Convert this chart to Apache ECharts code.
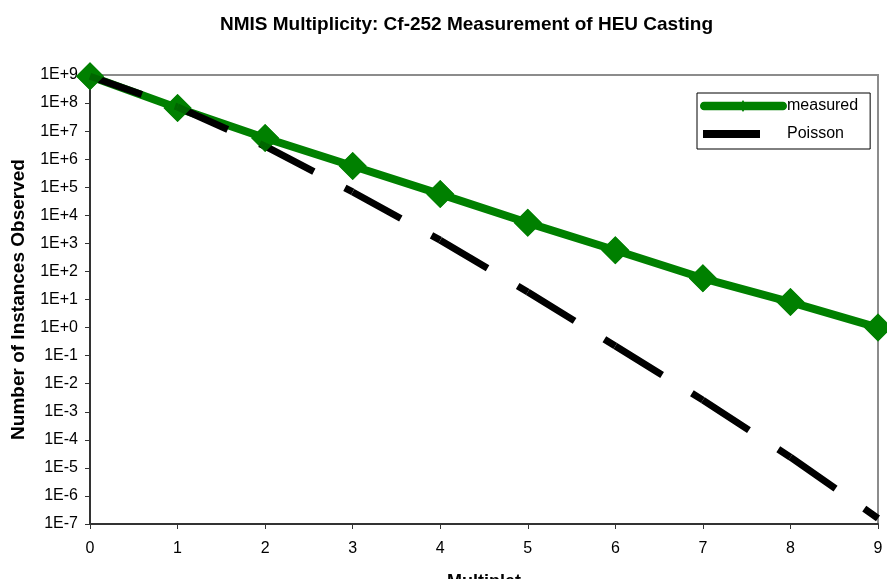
<!DOCTYPE html>
<html>
<head>
<meta charset="utf-8">
<script src="https://cdn.jsdelivr.net/npm/echarts@6/dist/echarts.min.js"></script>
<style>
html,body{margin:0;padding:0;background:#fff;}
#chart{width:887px;height:579px;}
</style>
</head>
<body>
<div id="chart"></div>
<script>
const multiplets = [0, 1, 2, 3, 4, 5, 6, 7, 8, 9];
const measured = [9e8, 6.7e7, 5.7e6, 5.7e5, 5.7e4, 5.4e3, 5.7e2, 57, 8.1, 1];
const poisson = [9e8, 7.2e7, 2.9e6, 6.8e4, 1.3e3, 18.5, 0.22, 2.6e-3, 2.4e-5, 1.6e-7];
const titleText = 'NMIS Multiplicity: Cf-252 Measurement of HEU Casting';
const xName = 'Multiplet';
const yName = 'Number of Instances Observed';

const FONT = '"Liberation Sans", Arial, sans-serif';
const pair = arr => multiplets.map((x, i) => [x, arr[i]]);

function expLabel(v) {
  const e = Math.round(Math.log10(v));
  return '1E' + (e >= 0 ? '+' : '-') + Math.abs(e);
}

// legend icons (drawn in an 87 x 12 box)
const measuredIcon = 'path://M4,2H83A4,4 0 0 1 83,10H4A4,4 0 0 1 4,2Z M43,0.5L47,6L43,11.5L39,6Z';
const poissonIcon = 'path://M3,2H60V10H3Z M0,0L0.01,0Z M87,12L86.99,12Z';

// The dashed Poisson line restarts its dash pattern on every segment (as in the original)
const poissonPts = pair(poisson);
const poissonSeries = [];
for (let k = 0; k < poissonPts.length - 1; k++) {
  poissonSeries.push({
    name: 'Poisson', type: 'line', z: 3,
    data: [poissonPts[k], poissonPts[k + 1]],
    symbol: 'none', silent: true,
    lineStyle: {color: '#000', width: 7, type: [65, 35], dashOffset: 10, cap: 'butt'},
    itemStyle: {color: '#000'}
  });
}

const chart = echarts.init(document.getElementById('chart'), null, {renderer: 'canvas'});
chart.setOption({
  animation: false,
  backgroundColor: '#fff',
  title: {
    text: titleText,
    left: 215, top: 10,
    textStyle: {fontFamily: FONT, fontSize: 19, fontWeight: 'bold', color: '#000'}
  },
  legend: {
    orient: 'vertical',
    left: 697, top: 93,
    borderColor: '#000', borderWidth: 1,
    padding: [5, 12, 7, 3],
    itemWidth: 87, itemHeight: 12, itemGap: 12,
    symbolKeepAspect: false,
    textStyle: {fontFamily: FONT, fontSize: 16, color: '#000', padding: [0, 0, 0, -5]},
    data: [
      {name: 'measured', icon: measuredIcon, itemStyle: {color: '#008000', borderWidth: 0}},
      {name: 'Poisson', icon: poissonIcon, itemStyle: {color: '#000', borderWidth: 0}}
    ]
  },
  grid: {
    left: 90, right: 9, top: 75, bottom: 55,
    outerBoundsMode: 'none', containLabel: false,
    show: true, borderColor: '#8c8c8c', borderWidth: 2
  },
  xAxis: {
    type: 'value', min: 0, max: 9, interval: 1,
    name: xName, nameLocation: 'middle', nameGap: 49,
    nameTextStyle: {fontFamily: FONT, fontSize: 18, fontWeight: 'bold', color: '#000'},
    axisLine: {show: true, onZero: false, lineStyle: {color: '#333', width: 2}},
    axisTick: {show: true, inside: false, length: 5, lineStyle: {color: '#333', width: 1}},
    axisLabel: {fontFamily: FONT, fontSize: 16, color: '#000', margin: 17},
    splitLine: {show: false}
  },
  yAxis: {
    type: 'log', logBase: 10, min: 1e-7, max: 1e9, interval: 1,
    name: yName, nameLocation: 'middle', nameGap: 62, nameRotate: 90,
    nameTextStyle: {fontFamily: FONT, fontSize: 19, fontWeight: 'bold', color: '#000'},
    axisLine: {show: true, lineStyle: {color: '#333', width: 2}},
    axisTick: {show: true, inside: false, length: 5, lineStyle: {color: '#333', width: 1}},
    axisLabel: {fontFamily: FONT, fontSize: 16, color: '#000', margin: 12, formatter: expLabel},
    minorTick: {show: false},
    splitLine: {show: false}
  },
  series: [
    {
      name: 'measured', type: 'line', z: 2,
      data: pair(measured),
      symbol: 'diamond', symbolSize: 28, showSymbol: true,
      lineStyle: {color: '#008000', width: 8},
      itemStyle: {color: '#008000'}
    }
  ].concat(poissonSeries, [
    {
      name: 'measuredMarkers', type: 'scatter', z: 4,
      data: pair(measured),
      symbol: 'diamond', symbolSize: 28,
      itemStyle: {color: '#008000'},
      silent: true
    }
  ])
});
</script>
</body>
</html>
